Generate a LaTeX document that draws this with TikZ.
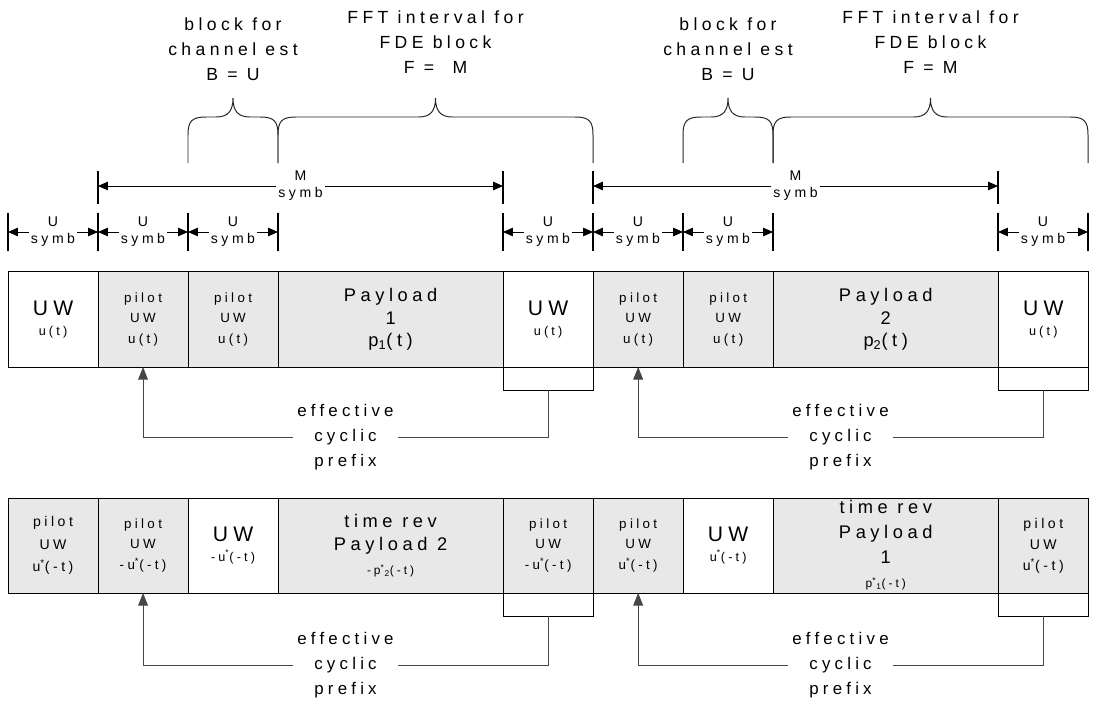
\documentclass[tikz,border=0pt]{standalone}
\usepackage{fontspec}
\setmainfont[LetterSpace=25]{Liberation Sans}
\usepackage{tikz}
\usetikzlibrary{arrows.meta}
\definecolor{cell-gray}{RGB}{232,232,232}
\definecolor{line-gray}{RGB}{70,70,70}
\newcommand\bigtxt{\fontsize{15}{17}\selectfont}
\newcommand\smtxt{\fontsize{8.5}{11}\selectfont}

\tikzset{
  cell/.style={draw, fill=cell-gray, line width=0.7pt, outer sep=0pt, inner sep=0pt,
    minimum width=2.25cm, minimum height=2.375cm, align=center, anchor=west,
    font=\fontsize{9.5}{14.6}\selectfont},
  plain/.style={cell, fill=white},
  wide/.style={minimum width=5.625cm, font=\fontsize{13}{16}\selectfont},
  uwtxt/.style={font=\fontsize{9}{14}\selectfont},
  cpbox/.style={draw, line width=0.7pt, minimum width=2.25cm, minimum height=0.575cm,
    outer sep=0pt, inner sep=0pt, anchor=north},
  note/.style={align=center, inner sep=3pt, font=\fontsize{12}{17.8}\selectfont},
  link/.style={draw=line-gray, line width=0.7pt},
  tick/.style={line width=1pt},
  dim/.style={line width=0.6pt, {Triangle[length=7pt,width=6pt]}-{Triangle[length=7pt,width=6pt]}},
  dimlabel/.style={fill=white, align=center, inner sep=1.5pt, font=\fontsize{10}{12}\selectfont},
  bracket/.style={line width=0.7pt, black!85},
  title/.style={align=center, font=\fontsize{12.5}{17.8}\selectfont}
}

\begin{document}
\begin{tikzpicture}[x=0.025cm, y=-0.025cm]
   \useasboundingbox (0,0) rectangle (1095,709);

   % braces and their titles
   \foreach \xa/\xb in {188/278,278/593,683/773,773/1088}{
     \pgfmathsetmacro\xm{(\xa+\xb)/2}
     \draw[bracket] (\xa,163) -- (\xa,135) .. controls (\xa,121) and (\xa+4,117) .. (\xa+18,117)
       -- (\xm-17,117) .. controls (\xm-5,117) and (\xm,111) .. (\xm,98)
       .. controls (\xm,111) and (\xm+5,117) .. (\xm+17,117)
       -- (\xb-18,117) .. controls (\xb-4,117) and (\xb,121) .. (\xb,135) -- (\xb,163);
   }
   \node[title] (est1) at (233,49.5) {block for\\channel est\\B = U};
   \node[title] (fde1) at (435.5,42.5) {FFT interval for\\FDE block\\F =\ \ M};
   \node[title] (est2) at (728,49.5) {block for\\channel est\\B = U};
   \node[title] (fde2) at (930.5,42.5) {FFT interval for\\FDE block\\F = M};

   % symbol counts
   \foreach \x in {98,503,593,998} \draw[tick] (\x,171) -- (\x,204);
   \foreach \x in {8,98,188,278,503,593,683,773,998,1088} \draw[tick] (\x,213) -- (\x,251);
   \foreach \x in {98,593} \draw[dim] (\x,186) -- node[dimlabel]{M\\symb} (\x+405,186);
   \foreach \x in {8,98,188,503,593,683,998} \draw[dim] (\x,232) -- node[dimlabel]{U\\symb} (\x+90,232);

   % first frame
   \node[plain, uwtxt] (a1) at (8,319.5) {{\bigtxt UW}\\u(t)};
   \node[cell] (a2) at (a1.east) {pilot\\UW\\u(t)};
   \node[cell] (a3) at (a2.east) {pilot\\UW\\u(t)};
   \node[cell, wide] (a4) at (a3.east) {Payload\\1\\p\textsubscript{1}(t)};
   \node[plain, uwtxt] (a5) at (a4.east) {{\bigtxt UW}\\u(t)};
   \node[cell] (a6) at (a5.east) {pilot\\UW\\u(t)};
   \node[cell] (a7) at (a6.east) {pilot\\UW\\u(t)};
   \node[cell, wide] (a8) at (a7.east) {Payload\\2\\p\textsubscript{2}(t)};
   \node[plain, uwtxt] (a9) at (a8.east) {{\bigtxt UW}\\u(t)};

   \node[cpbox] (pa1) at (a5.south) {};
   \node[cpbox] (pa2) at (a9.south) {};
   \node[note] (ea1) at (345.5,437) {effective\\cyclic\\prefix};
   \node[note] (ea2) at (840.5,437) {effective\\cyclic\\prefix};
   \draw[link] (pa1.south) |- (ea1.east);
   \draw[link, -{Triangle[length=9pt,width=7pt]}] (ea1.west) -| (a2.south);
   \draw[link] (pa2.south) |- (ea2.east);
   \draw[link, -{Triangle[length=9pt,width=7pt]}] (ea2.west) -| (a6.south);

   % second frame, time reversed
   \node[cell, font=\fontsize{10}{16}\selectfont] (b1) at (8,545.5) {pilot\\UW\\u\textsuperscript{*}(-t)};
   \node[cell] (b2) at (b1.east) {pilot\\UW\\-u\textsuperscript{*}(-t)};
   \node[plain, uwtxt] (b3) at (b2.east) {{\bigtxt UW}\\-u\textsuperscript{*}(-t)};
   \node[cell, wide, font=\fontsize{13}{16.5}\selectfont] (b4) at (b3.east) {time rev\\Payload 2\\{\smtxt -p\textsuperscript{*}\textsubscript{2}(-t)}};
   \node[cell] (b5) at (b4.east) {pilot\\UW\\-u\textsuperscript{*}(-t)};
   \node[cell] (b6) at (b5.east) {pilot\\UW\\u\textsuperscript{*}(-t)};
   \node[plain, uwtxt] (b7) at (b6.east) {{\bigtxt UW}\\u\textsuperscript{*}(-t)};
   \node[cell, wide, font=\fontsize{13}{17.5}\selectfont] (b8) at (b7.east) {time rev\\Payload\\1\\{\smtxt p\textsuperscript{*}\textsubscript{1}(-t)}};
   \node[cell, font=\fontsize{10}{15}\selectfont] (b9) at (b8.east) {pilot\\UW\\u\textsuperscript{*}(-t)};

   \node[cpbox] (pb1) at (b5.south) {};
   \node[cpbox] (pb2) at (b9.south) {};
   \node[note] (eb1) at (345.5,665) {effective\\cyclic\\prefix};
   \node[note] (eb2) at (840.5,665) {effective\\cyclic\\prefix};
   \draw[link] (pb1.south) |- (eb1.east);
   \draw[link, -{Triangle[length=9pt,width=7pt]}] (eb1.west) -| (b2.south);
   \draw[link] (pb2.south) |- (eb2.east);
   \draw[link, -{Triangle[length=9pt,width=7pt]}] (eb2.west) -| (b6.south);
\end{tikzpicture}
\end{document}
